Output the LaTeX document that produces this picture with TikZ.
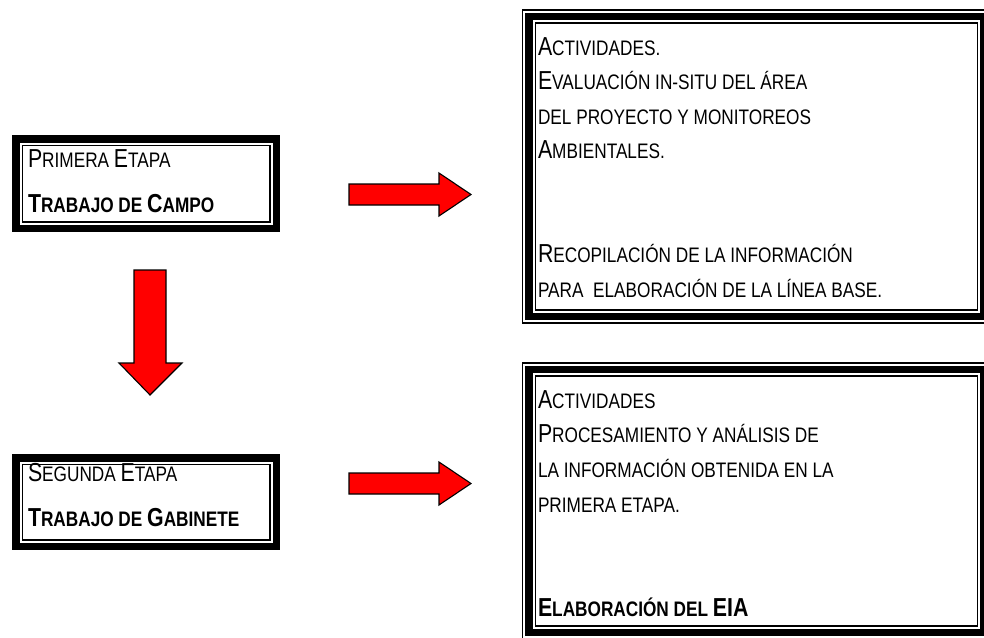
\documentclass[tikz,border=0pt]{standalone}
\usepackage{fontspec}
\setmainfont{Liberation Sans}[FakeStretch=0.82]
\newcommand\bigltr[1]{{\fontsize{26}{30}\selectfont #1}}
\newcommand\smltr[1]{{\fontsize{21}{25}\selectfont #1}}
\newcommand\ttbox[4]{%
  \draw[line width=7.5pt] ({#1+3.75},{#2+3.75}) rectangle ({#3-3.75},{#4-3.75});
  \draw[line width=1.5pt] ({#1+10.25},{#2+10.25}) rectangle ({#3-10.25},{#4-10.25});}
\newcommand\tribox[4]{%
  \draw[line width=1.5pt] ({#1+0.75},{#2+0.75}) rectangle ({#3-0.75},{#4-0.75});
  \draw[line width=7.5pt] ({#1+7.25},{#2+7.25}) rectangle ({#3-7.25},{#4-7.25});
  \draw[line width=1.5pt] ({#1+13.75},{#2+13.75}) rectangle ({#3-13.75},{#4-13.75});}
\tikzset{
  txt/.style={anchor=base west, inner sep=0pt, outer sep=0pt},
  blockarrow/.style={draw=black, line width=1.1pt, fill=red, line join=miter}
}
\begin{document}
\begin{tikzpicture}[x=1pt,y=-1pt]
\useasboundingbox (0,0) rectangle (984,637);
\begin{scope}
\clip (0,0) rectangle (984,637);
% boxes
\ttbox{12}{135}{280}{232}
\ttbox{12}{454}{280}{550}
\tribox{521.5}{9}{991}{323.75}
\tribox{521.5}{362}{991}{639.75}
\end{scope}
% left texts
\node[txt] (p1) at (28,167) {\bigltr{P}\smltr{RIMERA }\bigltr{E}\smltr{TAPA}};
\node[txt] (p2) at (28,212) {\bfseries\bigltr{T}\smltr{RABAJO DE }\bigltr{C}\smltr{AMPO}};
\node[txt] (s1) at (28,481) {\bigltr{S}\smltr{EGUNDA }\bigltr{E}\smltr{TAPA}};
\node[txt] (s2) at (28,526) {\bfseries\bigltr{T}\smltr{RABAJO DE }\bigltr{G}\smltr{ABINETE}};
% right top texts
\node[txt] (a1) at (538,55) {\bigltr{A}\smltr{CTIVIDADES.}};
\node[txt] (a2) at (538,89.6) {\bigltr{E}\smltr{VALUACIÓN IN-SITU DEL ÁREA}};
\node[txt] (a3) at (538,124.2) {\smltr{DEL PROYECTO Y MONITOREOS}};
\node[txt] (a4) at (538,158.8) {\bigltr{A}\smltr{MBIENTALES.}};
\node[txt] (a5) at (538,262.6) {\bigltr{R}\smltr{ECOPILACIÓN DE LA INFORMACIÓN}};
\node[txt] (a6) at (538,297.2) {\smltr{PARA\ \ ELABORACIÓN DE LA LÍNEA BASE.}};
% right bottom texts
\node[txt] (b1) at (538,408) {\bigltr{A}\smltr{CTIVIDADES}};
\node[txt] (b2) at (538,442.7) {\bigltr{P}\smltr{ROCESAMIENTO Y ANÁLISIS DE}};
\node[txt] (b3) at (538,477.4) {\smltr{LA INFORMACIÓN OBTENIDA EN LA}};
\node[txt] (b4) at (538,512.1) {\smltr{PRIMERA ETAPA.}};
\node[txt] (b5) at (538,616.2) {\bfseries\bigltr{E}\smltr{LABORACIÓN DEL }\bigltr{EIA}};
% block arrows
\draw[blockarrow] (349,184) -- (439,184) -- (439,173) -- (471,194.5) -- (439,216) -- (439,205) -- (349,205) -- cycle;
\draw[blockarrow] (349,473) -- (439,473) -- (439,462) -- (471,483.5) -- (439,505) -- (439,494) -- (349,494) -- cycle;
\draw[blockarrow] (134,270) -- (166,270) -- (166,363) -- (182,363) -- (150,395) -- (119,363) -- (134,363) -- cycle;
\end{tikzpicture}
\end{document}
